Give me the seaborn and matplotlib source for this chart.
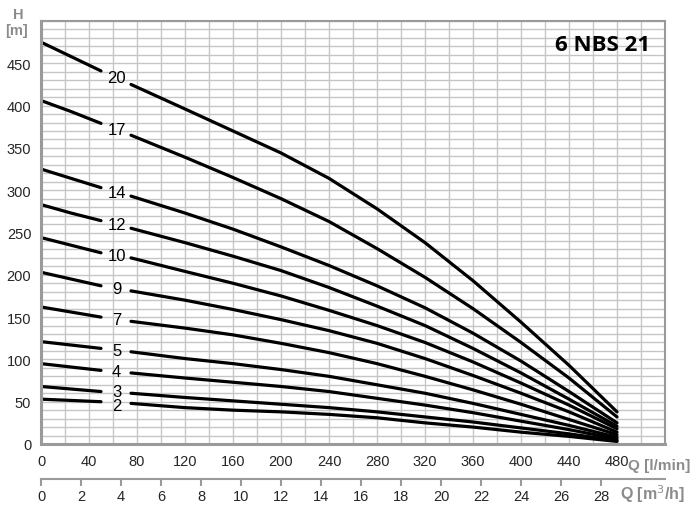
import numpy as np
import pandas as pd
import matplotlib
matplotlib.use("Agg")
import matplotlib.pyplot as plt
import seaborn as sns

# ── Data: pump curves 6 NBS 21, H [m] vs Q [l/min] per stage count ────────────
Q_LMIN = [0, 25, 50, 75, 120, 160, 200, 240, 280, 320, 360, 400, 440, 480]

H_20 = [475, 458, 441, 425, 396, 370, 344, 314, 278, 238, 193, 144, 93, 38]
H_17 = [406, 393, 379, 365, 339, 315, 290, 263, 231, 197, 160, 120, 78, 32]
H_14 = [325, 314, 303, 293, 273, 254, 233, 211, 187, 161, 131, 98, 62, 25]
H_12 = [283, 273, 264, 255, 238, 222, 205, 185, 163, 140, 113, 84, 53, 21]
H_10 = [244, 235, 226, 220, 204, 190, 175, 158, 140, 120, 97, 72, 46, 18]
H_9 = [203, 195, 187, 181, 170, 159, 147, 134, 119, 101, 81, 60, 38, 14]
H_7 = [162, 156, 150, 145, 137, 129, 119, 108, 95, 80, 64, 47, 29, 11]
H_5 = [121, 117, 113, 109, 101, 95, 88, 80, 70, 60, 48, 35, 22, 8]
H_4 = [95, 91, 87, 84, 78, 73, 68, 62, 54, 46, 37, 27, 17, 6]
H_3 = [68, 65, 62, 60, 55, 51, 47, 43, 38, 32, 26, 19, 12, 4]
H_2 = [53, 51.5, 50, 48, 43, 40, 38, 35, 31, 25, 20, 14, 9, 3]

STAGES = ["20", "17", "14", "12", "10", "9", "7", "5", "4", "3", "2"]
CURVES = [H_20, H_17, H_14, H_12, H_10, H_9, H_7, H_5, H_4, H_3, H_2]

X_TICKS = [0, 40, 80, 120, 160, 200, 240, 280, 320, 360, 400, 440, 480]
Y_TICKS = [0, 50, 100, 150, 200, 250, 300, 350, 400, 450]
M3H_TICKS = [0, 2, 4, 6, 8, 10, 12, 14, 16, 18, 20, 22, 24, 26, 28]

TITLE = "6 NBS 21"

GRID = "#c6c6c6"
AXIS = "#9a9a9a"
LABEL_GRAY = "#8c8c8c"
FONT = ["Liberation Sans Narrow", "Liberation Sans", "DejaVu Sans"]

sns.set_style("white")
plt.rcParams["font.family"] = FONT

fig = plt.figure(figsize=(6.98, 5.06), dpi=100)
ax = fig.add_axes([41 / 698, 61 / 506, 624 / 698, 423 / 506])

# ── Curves: left piece up to the label gap, right piece after it ───────────────
q = np.array(Q_LMIN)
left = q <= 50
right = q >= 75
label_shift = {"3": 1, "2": -3}
for stage, h in zip(STAGES, CURVES):
    h = np.array(h, dtype=float)
    sns.lineplot(x=q[left], y=h[left], color="black", lw=2.3, ax=ax)
    sns.lineplot(x=q[right], y=h[right], color="black", lw=2.3, ax=ax)
    y_lab = np.interp(63, q, h) + label_shift.get(stage, 0)
    ax.text(63, y_lab, stage, ha="center", va="center", fontsize=12,
            color="black")

# ── Axes / grid ────────────────────────────────────────────────────────────────
ax.set_xlim(0, 520)
ax.set_ylim(0, 500)
ax.set_xticks(X_TICKS)
ax.set_yticks(Y_TICKS)
ax.set_xticks(np.arange(0, 521, 20), minor=True)
ax.set_yticks(np.arange(0, 501, 10), minor=True)
ax.grid(which="both", color=GRID, lw=1.0)
ax.set_axisbelow(True)
ax.tick_params(which="minor", length=0)
ax.tick_params(which="major", length=5, width=1.5, color=AXIS,
               labelsize=10.5, pad=2)
for side in ["left", "bottom"]:
    ax.spines[side].set_color(AXIS)
    ax.spines[side].set_linewidth(2.2)
for side in ["top", "right"]:
    ax.spines[side].set_color(AXIS)
    ax.spines[side].set_linewidth(1.5)
ax.set_xlabel("")
ax.set_ylabel("")

# secondary flow axis in m3/h
sec = ax.secondary_xaxis(-0.083, functions=(lambda x: x * 0.06, lambda m: m / 0.06))
sec.set_xticks(M3H_TICKS)
sec.spines["bottom"].set_color(AXIS)
sec.spines["bottom"].set_linewidth(1.5)
sec.tick_params(length=5, width=1.5, color=AXIS, labelsize=10.5, pad=2)

# ── Texts ──────────────────────────────────────────────────────────────────────
fig.text(18 / 698, 1 - 15 / 506, "H", ha="center", va="center",
         fontsize=10.5, fontweight="bold", color=LABEL_GRAY)
fig.text(17 / 698, 1 - 31 / 506, "[m]", ha="center", va="center",
         fontsize=10.5, fontweight="bold", color=LABEL_GRAY)
fig.text(628 / 698, 1 - 466 / 506, "Q [l/min]", ha="left", va="center",
         fontsize=11, fontweight="bold", color=LABEL_GRAY)
fig.text(620 / 698, 1 - 494 / 506, "Q [m$^3$/h]", ha="left", va="center",
         fontsize=11.5, fontweight="bold", color=LABEL_GRAY)
ax.text(0.976, 0.97, TITLE, transform=ax.transAxes, ha="right", va="top",
        fontsize=16, fontweight="bold", color="black",
        family=["Open Sans", "DejaVu Sans"])

fig.savefig("out.png", dpi=100)
